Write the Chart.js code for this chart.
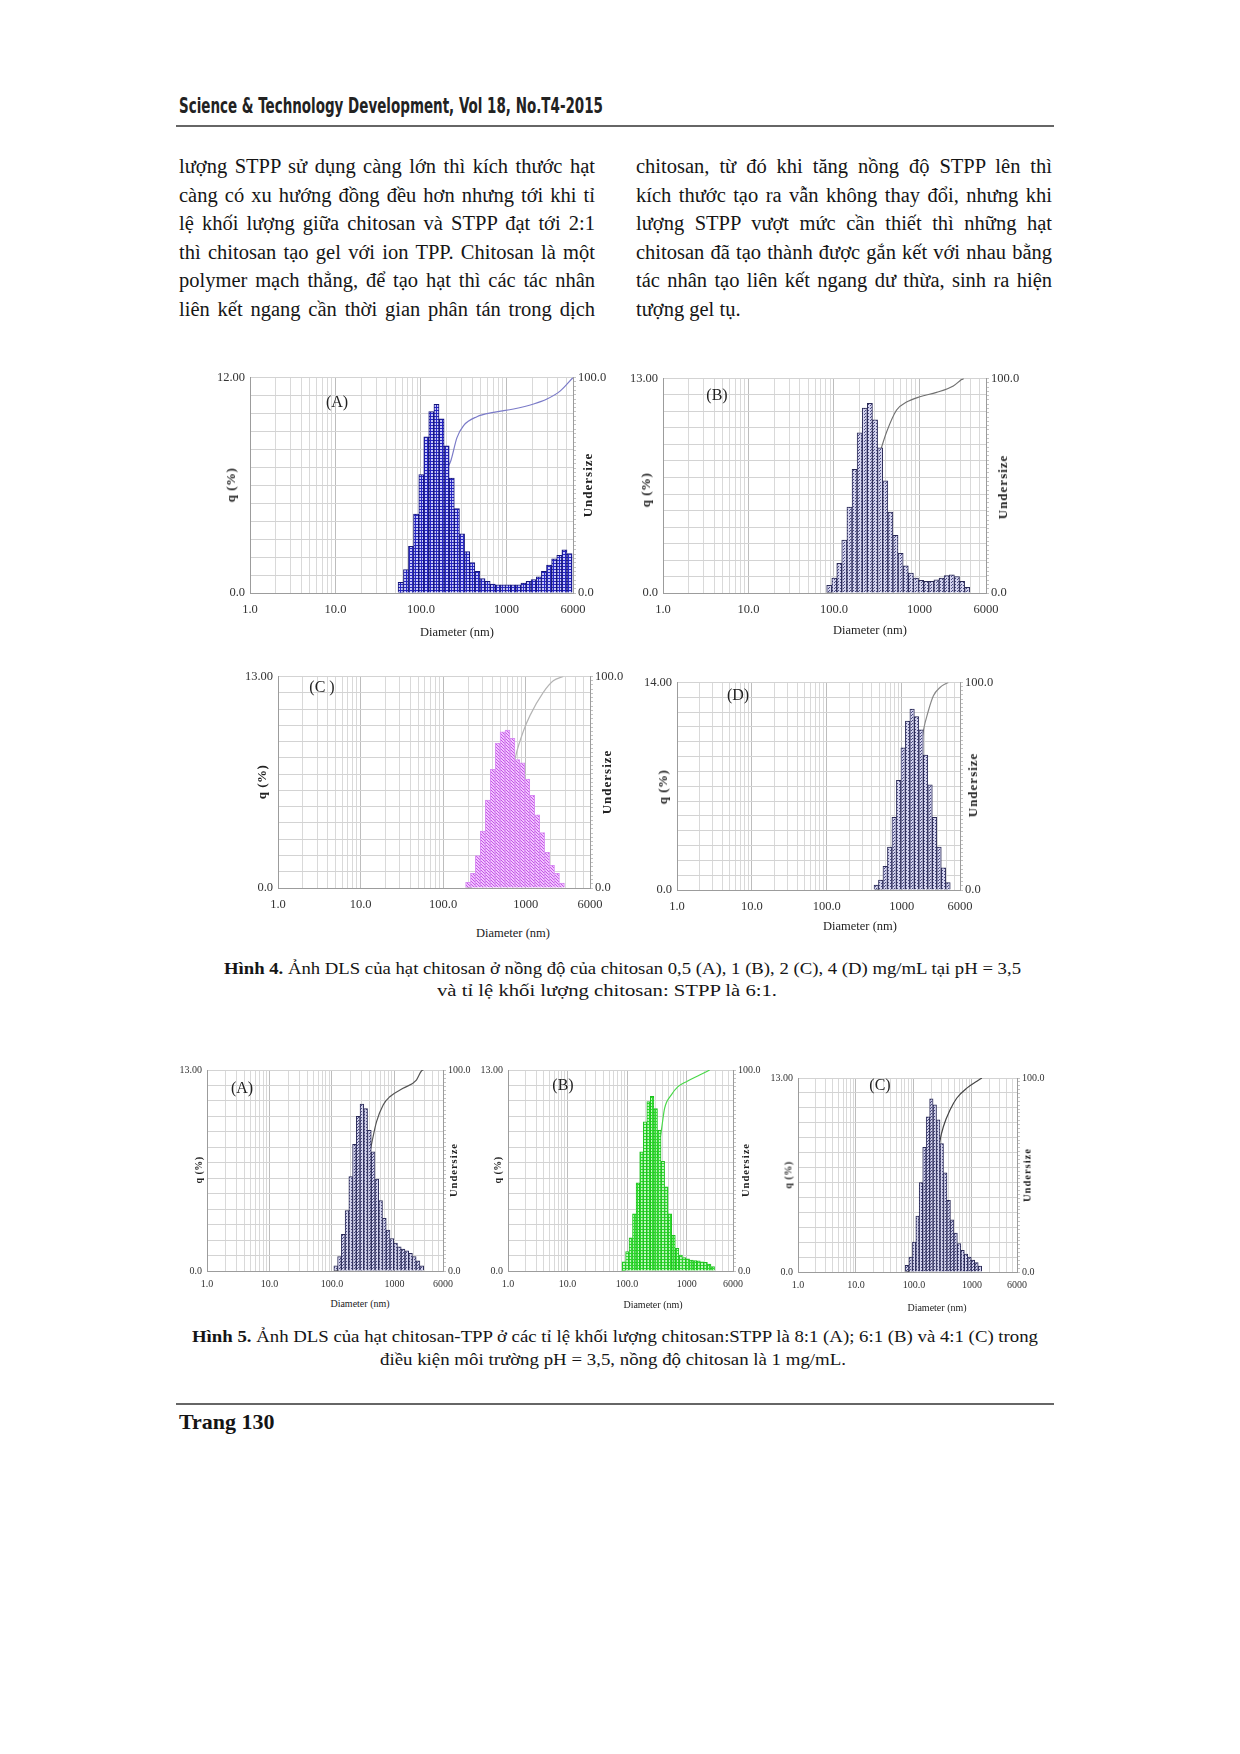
<!DOCTYPE html>
<html lang="vi">
<head>
<meta charset="utf-8">
<title>Hình 4 - Hình 5 DLS chitosan</title>
<script src="https://cdn.jsdelivr.net/npm/chart.js@4.4.1/dist/chart.umd.min.js"></script>
<style>
  html, body { margin: 0; padding: 0; background: #fff; }
  body { position: relative; width: 1240px; height: 1754px; overflow: hidden;
         font-family: "Liberation Serif", "Times New Roman", serif; color: #151515; }
  .t { position: absolute; white-space: nowrap; transform-origin: 0 50%; }
  .head { font-family: "DejaVu Sans Condensed", "DejaVu Sans", sans-serif; font-stretch: condensed;
          font-weight: bold; font-size: 21px; line-height: 26px; color: #222; }
  .body { font-size: 20.5px; line-height: 28px; }
  .cap { font-size: 17px; line-height: 22px; }
  .rule { position: absolute; left: 176px; width: 878px; height: 2px; background: #666; }
  .ttl { position: absolute; white-space: nowrap; transform: translate(-50%, -50%); color: #222; }
  .rot { transform: translate(-50%, -50%) rotate(-90deg); font-weight: bold; letter-spacing: 0.5px; }
</style>
</head>
<body>

<div class="t head" style="left:179px;top:93px" data-w="424">Science &amp; Technology Development, Vol 18, No.T4-2015</div>
<div class="rule" style="top:125px"></div>

<div class="t body" style="left:179px;top:152px" data-w="416" data-j="1">lượng STPP sử dụng càng lớn thì kích thước hạt</div>
<div class="t body" style="left:179px;top:181px" data-w="416" data-j="1">càng có xu hướng đồng đều hơn nhưng tới khi tỉ</div>
<div class="t body" style="left:179px;top:209px" data-w="416" data-j="1">lệ khối lượng giữa chitosan và STPP đạt tới 2:1</div>
<div class="t body" style="left:179px;top:238px" data-w="416" data-j="1">thì chitosan tạo gel với ion TPP. Chitosan là một</div>
<div class="t body" style="left:179px;top:266px" data-w="416" data-j="1">polymer mạch thẳng, để tạo hạt thì các tác nhân</div>
<div class="t body" style="left:179px;top:295px" data-w="416" data-j="1">liên kết ngang cần thời gian phân tán trong dịch</div>

<div class="t body" style="left:636px;top:152px" data-w="416" data-j="1">chitosan, từ đó khi tăng nồng độ STPP lên thì</div>
<div class="t body" style="left:636px;top:181px" data-w="416" data-j="1">kích thước tạo ra vẫn không thay đổi, nhưng khi</div>
<div class="t body" style="left:636px;top:209px" data-w="416" data-j="1">lượng STPP vượt mức cần thiết thì những hạt</div>
<div class="t body" style="left:636px;top:238px" data-w="416" data-j="1">chitosan đã tạo thành được gắn kết với nhau bằng</div>
<div class="t body" style="left:636px;top:266px" data-w="416" data-j="1">tác nhân tạo liên kết ngang dư thừa, sinh ra hiện</div>
<div class="t body" style="left:636px;top:295px">tượng gel tụ.</div>

<div class="t cap" style="left:224px;top:958px" data-w="797"><b>Hình 4.</b> Ảnh DLS của hạt chitosan ở nồng độ của chitosan 0,5 (A), 1 (B), 2 (C), 4 (D) mg/mL tại pH = 3,5</div>
<div class="t cap" style="left:437px;top:980px" data-w="340">và tỉ lệ khối lượng chitosan: STPP là 6:1.</div>

<div class="t cap" style="left:192px;top:1326px" data-w="846"><b>Hình 5.</b> Ảnh DLS của hạt chitosan-TPP ở các tỉ lệ khối lượng chitosan:STPP là 8:1 (A); 6:1 (B) và 4:1 (C) trong</div>
<div class="t cap" style="left:380px;top:1349px" data-w="466">điều kiện môi trường pH = 3,5, nồng độ chitosan là 1 mg/mL.</div>

<div class="rule" style="top:1403px"></div>
<div class="t" style="left:179px;top:1408px;font-size:22px;line-height:28px;font-weight:bold">Trang 130</div>

<script>
// size classes (nm), shared by all the DLS histograms
const binsNm = [51, 58, 67, 76, 88, 101, 115, 132, 152, 174, 200, 229, 263, 302, 347, 398, 457, 524,
  602, 691, 793, 910, 1045, 1199, 1377, 1580, 1814, 2082, 2390, 2744, 3150, 3616, 4150, 4764, 5468]

const xTickVals = [1, 2, 3, 4, 5, 6, 7, 8, 9, 10, 20, 30, 40, 50, 60, 70, 80, 90,
  100, 200, 300, 400, 500, 600, 700, 800, 900, 1000, 2000, 3000, 4000, 5000, 6000]
const xTickText = { 1: '1.0', 10: '10.0', 100: '100.0', 1000: '1000', 6000: '6000' }

// Hinh 4 (A) - 0,5 mg/mL
const q4A = [0.6, 1.3, 2.6, 4.4, 6.6, 8.7, 10.1, 10.5, 9.7, 8.2, 6.4, 4.7, 3.3, 2.3, 1.7, 1.2, 0.8,
  0.65, 0.5, 0.46, 0.45, 0.45, 0.45, 0.45, 0.55, 0.65, 0.75, 0.9, 1.2, 1.55, 1.9, 2.1, 2.4, 2.2]
const cumX4A = [55, 62, 72, 82, 94, 108, 123, 141, 163, 186, 224, 263, 315, 451, 706, 1211, 2075, 2972, 4268, 6000]
const cumY4A = [0, 0.6, 1.9, 4.5, 8.9, 15.5, 24.2, 34.3, 44.8, 54.5, 61.5, 72, 77.7, 81.8, 83.8, 85.4, 87.7, 90, 93.8, 100]

// Hinh 4 (B) - 1 mg/mL
const q4B = [0.46, 0.9, 1.8, 3.2, 5.2, 7.5, 9.7, 11.2, 11.5, 10.5, 8.8, 6.8, 4.9, 3.5, 2.4, 1.65,
  1.2, 0.9, 0.77, 0.7, 0.7, 0.8, 0.9, 1.05, 1.1, 1.0, 0.7, 0.35]
const cumX4B = [82, 94, 108, 123, 141, 163, 186, 214, 246, 282, 324, 360, 412, 540, 706, 1011, 1585, 2488, 3112, 3300]
const cumY4B = [0, 0.5, 1.4, 3.2, 6.4, 11.6, 19, 28.8, 40, 51.5, 62, 67.9, 75, 85.3, 89, 91.5, 93.5, 96.5, 99.5, 100]

// Hinh 4 (C) - 2 mg/mL
const q4C = [0.35, 0.9, 2.0, 3.5, 5.4, 7.3, 8.9, 9.6, 9.7, 9.2, 7.9, 7.7, 6.7, 5.7, 4.5, 3.4, 2.2, 1.4, 0.9, 0.3]
const cumX4C = [186, 214, 246, 282, 324, 372, 427, 490, 586, 774, 933, 1124, 1631, 2155, 2851]
const cumY4C = [0, 0.4, 1.3, 3.3, 6.8, 12.2, 19.5, 29, 42, 64, 74, 81.5, 92.5, 98, 100]

// Hinh 4 (D) - 4 mg/mL
const q4D = [0.34, 0.67, 1.6, 2.9, 4.9, 7.4, 9.6, 11.4, 12.2, 11.7, 10.8, 9.1, 7.1, 4.9, 2.9, 1.5, 0.5]
const cumX4D = [440, 490, 562, 645, 741, 850, 976, 1121, 1287, 1478, 1697, 1945, 2271, 2649, 3243, 3800, 4190]
const cumY4D = [0, 0.3, 1, 2.6, 5.5, 10.4, 17.8, 27.4, 38.8, 51, 62.7, 76.8, 86.4, 93.6, 97.6, 99.3, 100]

// Hinh 5 (A) - 8:1
const q5A = [0.34, 0.93, 2.37, 3.9, 6.1, 8.2, 10.0, 10.8, 10.5, 9.1, 7.7, 5.95, 4.55, 3.4, 2.65, 2.1,
  1.8, 1.57, 1.42, 1.3, 1.14, 0.93, 0.65, 0.34]
const cumX5A = [107, 123, 141, 163, 186, 214, 246, 282, 324, 372, 430, 518, 661, 844, 1377, 2249, 2704, 2900]
const cumY5A = [0, 0.3, 1.3, 3.6, 7.5, 13.6, 21.8, 31.8, 42.6, 53.1, 63, 74.3, 82.6, 86.7, 90.9, 95, 99.5, 100]

// Hinh 5 (B) - 6:1
const q5B = [0.6, 1.25, 2.15, 3.7, 5.7, 7.7, 9.65, 10.95, 11.3, 10.5, 9.1, 7.1, 5.45, 3.7, 2.3, 1.47,
  1.03, 0.86, 0.78, 0.71, 0.67, 0.65, 0.6, 0.56, 0.45, 0.28]
const cumX5B = [82, 94, 108, 123, 141, 163, 186, 214, 246, 282, 324, 376, 427, 553, 715, 987, 1652, 2435]
const cumY5B = [0, 0.6, 1.9, 4, 7.7, 13.4, 21.1, 30.8, 41.7, 53, 58, 70, 81, 87.6, 91.7, 94.2, 97.5, 100]

// Hinh 5 (C) - 4:1
const q5C = [0.45, 1.0, 2.0, 3.75, 6.0, 8.35, 10.4, 11.6, 11.2, 10.2, 8.6, 6.65, 4.8, 3.5, 2.6, 1.9,
  1.45, 1.2, 1.0, 0.8, 0.63, 0.4]
const cumX5C = [71, 82, 94, 108, 123, 141, 163, 186, 214, 246, 283, 323, 421, 550, 818, 1219, 1487]
const cumY5C = [0, 0.45, 1.45, 3.45, 7.2, 13.2, 21.6, 32, 43.6, 54.8, 68, 75, 83.6, 89.7, 94.8, 98.3, 100]


// little 3x3 fill tiles, like the instrument's hatched bars
function tile(base, mark, kind) {
  const c = document.createElement('canvas')
  c.width = 3; c.height = 3
  const g = c.getContext('2d')
  g.fillStyle = base
  g.fillRect(0, 0, 3, 3)
  g.fillStyle = mark
  if (kind === 'diag') {
    g.fillRect(0, 0, 1, 1); g.fillRect(1, 1, 1, 1); g.fillRect(2, 2, 1, 1)
  } else if (kind === 'dot') {
    g.fillRect(0, 0, 1, 1); g.fillRect(1, 2, 1, 1)
  } else {
    g.fillRect(1, 1, 2, 2)
  }
  return g.createPattern(c, 'repeat')
}

const looks = {
  blue:   { fill: tile('#2626c2', '#c8c8fa'), edge: '#141478' },
  navy:   { fill: tile('#d4d4ee', '#4a4a82', 'dot'), edge: '#2a2a56' },
  violet: { fill: tile('#f2c4ff', '#c455e6', 'diag'), edge: '#d88ef2' },
  green:  { fill: tile('#2fdc2f', '#c0f8c0'), edge: '#1fc01f' }
}

const panels = [
  { d: binsNm.slice(1, 35), q: q4A, cx: cumX4A, cy: cumY4A, qMax: 12, box: [250, 377, 573, 593],
    tag: '(A)', tagAt: [337, 402], qAt: [231, 485], uAt: [588, 485], dAt: [457, 632], look: 'blue', line: '#7b7bc8' },
  { d: binsNm.slice(4, 32), q: q4B, cx: cumX4B, cy: cumY4B, qMax: 13, box: [663, 378, 986, 593],
    tag: '(B)', tagAt: [717, 395], qAt: [646, 490], uAt: [1003, 487], dAt: [870, 630], look: 'navy', line: '#707070' },
  { d: binsNm.slice(10, 30), q: q4C, cx: cumX4C, cy: cumY4C, qMax: 13, box: [278, 676, 590, 888],
    tag: '(C )', tagAt: [322, 687], qAt: [262, 782], uAt: [607, 782], dAt: [513, 933], look: 'violet', line: '#b4b4b4' },
  { d: binsNm.slice(16, 33), q: q4D, cx: cumX4D, cy: cumY4D, qMax: 14, box: [677, 682, 960, 890],
    tag: '(D)', tagAt: [738, 695], qAt: [663, 787], uAt: [973, 785], dAt: [860, 926], look: 'navy', line: '#888888' },
  { d: binsNm.slice(6, 30), q: q5A, cx: cumX5A, cy: cumY5A, qMax: 13, box: [207, 1070, 443, 1271], small: true,
    tag: '(A)', tagAt: [242, 1088], qAt: [198, 1170], uAt: [453, 1170], dAt: [360, 1303], look: 'navy', line: '#555555' },
  { d: binsNm.slice(4, 30), q: q5B, cx: cumX5B, cy: cumY5B, qMax: 13, box: [508, 1070, 733, 1271], small: true,
    tag: '(B)', tagAt: [563, 1085], qAt: [497, 1170], uAt: [745, 1170], dAt: [653, 1304], look: 'green', line: '#4ad84a' },
  { d: binsNm.slice(3, 25), q: q5C, cx: cumX5C, cy: cumY5C, qMax: 13, box: [798, 1078, 1017, 1272], small: true,
    tag: '(C)', tagAt: [880, 1085], qAt: [788, 1175], uAt: [1027, 1175], dAt: [937, 1307], look: 'navy', line: '#444444' }
]

function label(text, at, css) {
  const el = document.createElement('div')
  el.className = 'ttl'
  el.textContent = text
  el.style.cssText += `left:${at[0]}px;top:${at[1]}px;` + css
  document.body.appendChild(el)
  return el
}

function makeDls(p) {
  const [l, t, r, b] = p.box
  const side = 60, topPad = 12, bottom = p.small ? 26 : 32
  const fs = p.small ? 10 : 12.5
  const cv = document.createElement('canvas')
  cv.width = r - l + 2 * side
  cv.height = b - t + topPad + bottom
  cv.style.cssText = `position:absolute;left:${l - side}px;top:${t - topPad}px`
  document.body.appendChild(cv)

  const tickFont = { family: 'Liberation Serif', size: fs }
  const yTicks = Array.from({ length: p.qMax + 1 }, (_, i) => i)
  const look = looks[p.look]

  new Chart(cv, {
    type: 'bar',
    data: {
      datasets: [{
        type: 'bar',
        data: p.d.map((x, i) => ({ x: x, y: p.q[i] })),
        yAxisID: 'y',
        backgroundColor: look.fill,
        borderColor: look.edge,
        borderWidth: 1,
        barThickness: 'flex',
        barPercentage: 1,
        categoryPercentage: 1,
        order: 1
      }, {
        type: 'line',
        data: p.cx.map((x, i) => ({ x: x, y: p.cy[i] })),
        yAxisID: 'y2',
        borderColor: p.line,
        borderWidth: 1.2,
        pointRadius: 0,
        cubicInterpolationMode: 'monotone',
        order: 2
      }]
    },
    options: {
      responsive: false,
      animation: false,
      layout: { padding: { top: topPad } },
      plugins: { legend: { display: false }, tooltip: { enabled: false } },
      scales: {
        x: {
          type: 'logarithmic', min: 1, max: 6000, offset: false,
          grid: { offset: false, drawTicks: false,
                  color: c => ([1, 10, 100, 1000].includes(c.tick && c.tick.value) ? '#bdbdbd' : '#d9d9d9') },
          border: { color: '#9c9c9c' },
          afterBuildTicks: s => { s.ticks = xTickVals.map(v => ({ value: v })) },
          afterFit: s => { s.height = bottom },
          ticks: { autoSkip: false, maxRotation: 0, padding: p.small ? 7 : 9, font: tickFont, color: '#333',
                   callback: v => xTickText[v] || '' }
        },
        y: {
          position: 'left', min: 0, max: p.qMax,
          grid: { color: '#d3d3d3', drawTicks: false },
          border: { color: '#9c9c9c' },
          afterBuildTicks: s => { s.ticks = yTicks.map(v => ({ value: v })) },
          afterFit: s => { s.width = side },
          ticks: { autoSkip: false, padding: 5, font: tickFont, color: '#333',
                   callback: v => (v === 0 ? '0.0' : v === p.qMax ? p.qMax.toFixed(2) : '') }
        },
        y2: {
          position: 'right', min: 0, max: 100,
          grid: { drawOnChartArea: false, drawTicks: true, tickLength: 3, tickColor: '#c4c4c4' },
          border: { color: '#9c9c9c' },
          afterBuildTicks: s => { s.ticks = Array.from({ length: 51 }, (_, i) => ({ value: i * 2 })) },
          afterFit: s => { s.width = side },
          ticks: { autoSkip: false, padding: 2, font: tickFont, color: '#333',
                   callback: v => (v === 0 ? '0.0' : v === 100 ? '100.0' : '') }
        }
      }
    }
  })

  const titleSize = p.small ? 10 : 12.5
  label(p.tag, p.tagAt, `font-size:16px;`)
  label('Diameter (nm)', p.dAt, `font-size:${titleSize}px;`)
  label('q (%)', p.qAt, `font-size:${p.small ? 10 : 13}px;`).classList.add('rot')
  label('Undersize', p.uAt, `font-size:${p.small ? 10.5 : 13}px;letter-spacing:1px;`).classList.add('rot')
}

panels.forEach(makeDls)

// fit the text lines to the widths in the page
document.querySelectorAll('[data-w]').forEach(el => {
  const target = +el.dataset.w
  const w = el.getBoundingClientRect().width
  if (el.dataset.j && w < target) {
    const spaces = (el.textContent.match(/ /g) || []).length
    el.style.wordSpacing = ((target - w) / spaces) + 'px'
  } else {
    el.style.transform = `scaleX(${target / w})`
  }
})
</script>
</body>
</html>
